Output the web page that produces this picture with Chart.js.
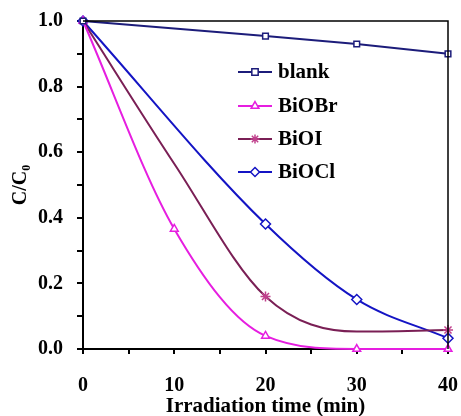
<!DOCTYPE html>
<html>
<head>
<meta charset="utf-8">
<script src="https://cdn.jsdelivr.net/npm/chart.js@4/dist/chart.umd.min.js"></script>
<style>
  html, body { margin: 0; padding: 0; background: #fff; }
  #wrap { width: 461px; height: 416px; position: relative; }
</style>
</head>
<body>
<div id="wrap"><canvas id="grafico"></canvas></div>
<script>
// datos
const tBlank = [0, 20, 30, 40];
const vBlank = [1.0, 0.954, 0.93, 0.90];
const tBiOBr = [0, 10, 20, 30, 40];
const vBiOBr = [1.0, 0.366, 0.04, 0.0, 0.0];
const tBiOI = [0, 10, 20, 30, 40];
const vBiOI = [1.0, 0.565, 0.16, 0.053, 0.058];
const tBiOCl = [0, 20, 30, 40];
const vBiOCl = [1.0, 0.381, 0.151, 0.033];
const etiquetas = ['blank', 'BiOBr', 'BiOI', 'BiOCl'];

const FUENTE = '"Liberation Serif", "Times New Roman", serif';

function puntos(ts, vs) {
    return ts.map((t, i) => ({ x: t, y: vs[i] }));
}

// marco superior/derecho + leyenda dentro del area
const marcoYLeyenda = {
    id: 'marcoYLeyenda',
    afterDraw(chart) {
        const ctx = chart.ctx;
        const a = chart.chartArea;
        ctx.save();
        ctx.strokeStyle = '#000';
        ctx.lineWidth = 1.5;
        ctx.beginPath();
        ctx.moveTo(a.left, a.top);
        ctx.lineTo(a.right, a.top);
        ctx.lineTo(a.right, a.bottom);
        ctx.stroke();

        const x0 = 238, x1 = 272, xt = 278;
        const filas = [72, 106, 139, 172];
        ctx.font = 'bold 21px ' + FUENTE;
        ctx.textBaseline = 'middle';
        ctx.fillStyle = '#000';
        chart.data.datasets.forEach((ds, i) => {
            const y = filas[i];
            ctx.strokeStyle = ds.borderColor;
            ctx.lineWidth = 2;
            ctx.beginPath();
            ctx.moveTo(x0, y);
            ctx.lineTo(x1, y);
            ctx.stroke();
            ctx.strokeStyle = ds.pointBorderColor;
            ctx.fillStyle = '#fff';
            ctx.lineWidth = 1.5;
            Chart.helpers.drawPoint(ctx, { pointStyle: ds.pointStyle, radius: 4.5, borderWidth: 1.5 }, (x0 + x1) / 2, y);
            ctx.fillStyle = '#000';
            ctx.fillText(etiquetas[i], xt, y + 1);
        });
        ctx.restore();
    }
};

const comun = {
    borderWidth: 2,
    pointBackgroundColor: '#fff',
    pointBorderWidth: 1.5,
    pointRadius: 4.5,
    fill: false,
    clip: false
};

new Chart(document.getElementById('grafico').getContext('2d'), {
    type: 'line',
    data: {
        datasets: [
            Object.assign({}, comun, {
                label: etiquetas[0],
                data: puntos(tBlank, vBlank),
                borderColor: '#1c1c7a',
                pointBorderColor: '#1c1c7a',
                pointStyle: 'rect',
                pointRadius: 4,
                tension: 0
            }),
            Object.assign({}, comun, {
                label: etiquetas[1],
                data: puntos(tBiOBr, vBiOBr),
                borderColor: '#e61ee0',
                pointBorderColor: '#e61ee0',
                pointStyle: 'triangle',
                cubicInterpolationMode: 'monotone'
            }),
            Object.assign({}, comun, {
                label: etiquetas[2],
                data: puntos(tBiOI, vBiOI),
                borderColor: '#7a1f55',
                pointBorderColor: '#c0408c',
                pointStyle: 'star',
                pointRadius: [0, 0, 5, 0, 5],
                cubicInterpolationMode: 'monotone'
            }),
            Object.assign({}, comun, {
                label: etiquetas[3],
                data: puntos(tBiOCl, vBiOCl),
                borderColor: '#1414c4',
                pointBorderColor: '#1414c4',
                pointStyle: 'rectRot',
                pointRadius: 5,
                cubicInterpolationMode: 'monotone'
            })
        ]
    },
    options: {
        responsive: true,
        maintainAspectRatio: false,
        animation: false,
        events: [],
        layout: { padding: { left: 0, right: 13, top: 21, bottom: 0 } },
        plugins: {
            legend: { display: false },
            tooltip: { enabled: false }
        },
        scales: {
            x: {
                type: 'linear',
                min: 0,
                max: 40,
                afterFit: s => { s.height = 67; s.paddingLeft = 0; s.paddingRight = 0; },
                border: { display: true, color: '#000', width: 2 },
                grid: { drawOnChartArea: false, drawTicks: true, tickLength: 5, color: '#000', lineWidth: 2 },
                ticks: {
                    stepSize: 5,
                    padding: 20,
                    color: '#000',
                    font: { family: FUENTE, size: 20, weight: 'bold' },
                    callback: v => (v % 10 === 0 ? String(v) : '')
                },
                title: {
                    display: true,
                    text: 'Irradiation time (min)',
                    color: '#000',
                    font: { family: FUENTE, size: 21, weight: 'bold' },
                    padding: { top: 0, bottom: -3 }
                }
            },
            y: {
                min: 0,
                max: 1,
                afterFit: s => { s.width = 83; s.paddingTop = 0; s.paddingBottom = 0; },
                border: { display: true, color: '#000', width: 2 },
                grid: { drawOnChartArea: false, drawTicks: true, tickLength: 6, color: '#000', lineWidth: 2 },
                ticks: {
                    stepSize: 0.1,
                    padding: 14,
                    color: '#000',
                    font: { family: FUENTE, size: 20, weight: 'bold' },
                    callback: v => (Math.round(v * 10) % 2 === 0 ? v.toFixed(1) : '')
                },
                title: {
                    display: true,
                    text: 'C/C₀',
                    color: '#000',
                    font: { family: FUENTE, size: 20, weight: 'bold' },
                    padding: { top: 9, bottom: 2 }
                }
            }
        }
    },
    plugins: [marcoYLeyenda]
});
</script>
</body>
</html>
